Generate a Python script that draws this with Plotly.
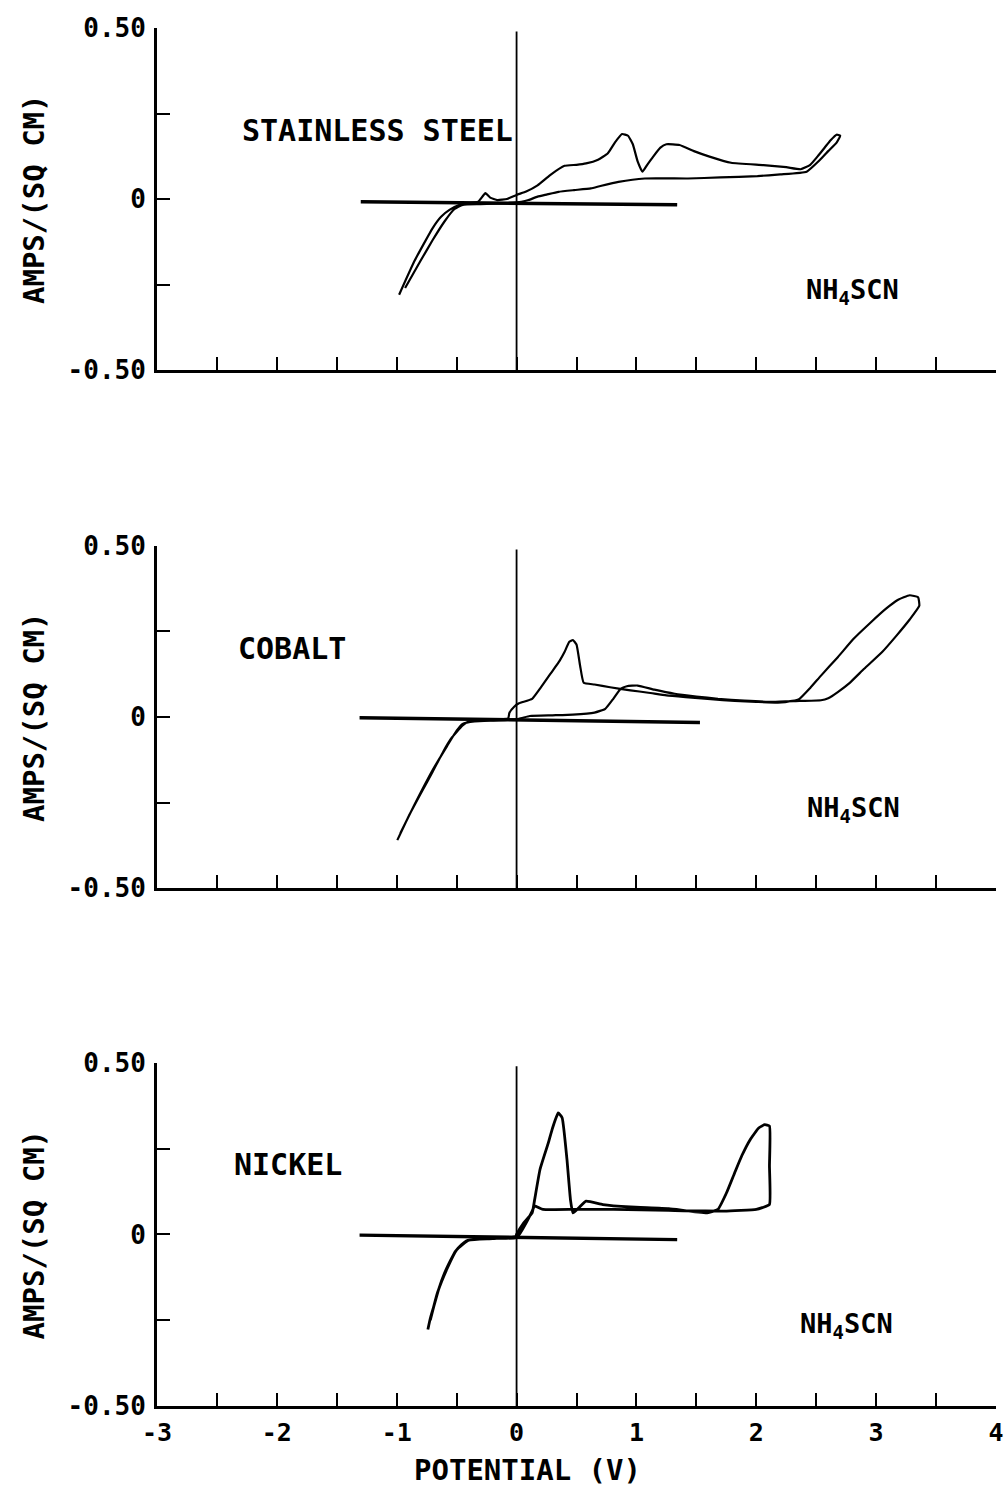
import plotly.graph_objects as go

# ---------------- data ----------------
# Stainless steel cyclic voltammogram (potential V, current A/cm^2)
ss_v = [-0.98, -0.85, -0.70, -0.63, -0.56, -0.48, -0.40, -0.32, -0.26, -0.22, -0.16, -0.08, 0.0, 0.08,
        0.175, 0.28, 0.40, 0.50, 0.58, 0.68, 0.76, 0.82, 0.88, 0.93, 0.97, 1.01, 1.05, 1.09, 1.14, 1.20,
        1.25, 1.36, 1.48, 1.61, 1.79, 2.06, 2.25, 2.37, 2.45, 2.51, 2.57, 2.62, 2.67, 2.70,
        2.67, 2.60, 2.53, 2.42, 2.20, 2.01, 1.70, 1.43, 1.07, 0.85, 0.70, 0.62, 0.48, 0.35, 0.25, 0.175,
        0.10, 0.04, -0.10, -0.30, -0.45, -0.52, -0.60, -0.70, -0.80, -0.93]
ss_i = [-0.280, -0.18, -0.085, -0.052, -0.032, -0.018, -0.013, -0.008, 0.017, 0.004, -0.003, 0.0, 0.012, 0.022,
        0.040, 0.070, 0.097, 0.100, 0.104, 0.115, 0.133, 0.165, 0.190, 0.185, 0.160, 0.110, 0.080, 0.100, 0.124, 0.150,
        0.160, 0.158, 0.140, 0.124, 0.106, 0.099, 0.093, 0.087, 0.100, 0.124, 0.150, 0.172, 0.188, 0.185,
        0.165, 0.140, 0.114, 0.080, 0.072, 0.067, 0.063, 0.060, 0.060, 0.050, 0.038, 0.031, 0.026, 0.021, 0.013, 0.007,
        -0.003, -0.008, -0.012, -0.015, -0.017, -0.030, -0.065, -0.120, -0.180, -0.260]

# Cobalt
co_v = [-0.995, -0.90, -0.79, -0.70, -0.61, -0.55, -0.50, -0.45, -0.41, -0.30, -0.15, -0.07, -0.06, -0.02, 0.02,
        0.13, 0.20, 0.29, 0.36, 0.40, 0.44, 0.47, 0.50, 0.53, 0.56, 0.65, 0.78, 0.95, 1.10, 1.25, 1.41, 1.62,
        1.82, 2.00, 2.18, 2.30, 2.36, 2.45, 2.54, 2.68, 2.81, 2.95, 3.08, 3.18, 3.28, 3.35, 3.36,
        3.28, 3.17, 3.05, 2.90, 2.78, 2.68, 2.60, 2.54, 2.36, 2.14, 1.90, 1.68, 1.50, 1.32, 1.15, 1.01, 0.92,
        0.87, 0.80, 0.74, 0.65, 0.47, 0.30, 0.11, 0.02, -0.15, -0.35, -0.45, -0.50, -0.58, -0.70, -0.85, -0.97]
co_i = [-0.360, -0.290, -0.218, -0.160, -0.100, -0.065, -0.044, -0.025, -0.015, -0.010, -0.007, -0.004, 0.012, 0.030, 0.040,
        0.053, 0.085, 0.130, 0.165, 0.190, 0.220, 0.225, 0.212, 0.150, 0.100, 0.095, 0.087, 0.078, 0.071, 0.063, 0.058, 0.052,
        0.047, 0.044, 0.042, 0.047, 0.053, 0.085, 0.121, 0.175, 0.228, 0.275, 0.316, 0.342, 0.356, 0.350, 0.325,
        0.285, 0.238, 0.190, 0.141, 0.100, 0.073, 0.055, 0.049, 0.047, 0.044, 0.048, 0.053, 0.060, 0.068, 0.080, 0.092, 0.090,
        0.083, 0.050, 0.024, 0.013, 0.007, 0.005, 0.003, -0.005, -0.010, -0.013, -0.020, -0.040, -0.085, -0.155, -0.255, -0.340]

# Nickel
ni_v = [-0.74, -0.72, -0.69, -0.65, -0.60, -0.55, -0.51, -0.46, -0.42, -0.33, -0.15, -0.01, 0.0, 0.06, 0.13,
        0.15, 0.196, 0.265, 0.30, 0.347, 0.38, 0.42, 0.45, 0.47, 0.52, 0.58, 0.72, 0.95, 1.27, 1.59, 1.68,
        1.75, 1.82, 1.88, 1.95, 2.02, 2.07, 2.11, 2.11, 2.11,
        2.05, 2.00, 1.73, 1.27, 0.81, 0.49, 0.22, 0.15, 0.13, 0.08, 0.01, -0.20, -0.40, -0.50, -0.58, -0.66, -0.72]
ni_i = [-0.277, -0.245, -0.209, -0.160, -0.112, -0.075, -0.049, -0.030, -0.019, -0.013, -0.011, -0.010, 0.0, 0.034, 0.063,
        0.100, 0.190, 0.267, 0.310, 0.354, 0.340, 0.220, 0.100, 0.063, 0.078, 0.097, 0.087, 0.080, 0.075, 0.063, 0.073,
        0.120, 0.180, 0.230, 0.277, 0.310, 0.320, 0.316, 0.200, 0.087,
        0.078, 0.073, 0.068, 0.070, 0.073, 0.073, 0.073, 0.083, 0.068, 0.034, -0.005, -0.012, -0.017, -0.045, -0.100, -0.170, -0.250]

# horizontal reference (zero-current) lines drawn on the recorder chart
ss_ref_v = [-1.30, 1.34]
ss_ref_i = [-0.008, -0.017]
co_ref_v = [-1.31, 1.53]
co_ref_i = [-0.002, -0.016]
ni_ref_v = [-1.31, 1.34]
ni_ref_i = [-0.002, -0.015]

panel_names = ["STAINLESS STEEL", "COBALT", "NICKEL"]
electrolyte = "NH<sub>4</sub>SCN"

x_tickvals = [-3, -2.5, -2, -1.5, -1, -0.5, 0, 0.5, 1, 1.5, 2, 2.5, 3, 3.5, 4]
x_ticktext = ["-3", "", "-2", "", "-1", "", "0", "", "1", "", "2", "", "3", "", "4"]
y_tickvals = [-0.5, -0.25, 0, 0.25, 0.5]
y_ticktext = ["-0.50", "", "0", "", "0.50"]

# ---------------- figure ----------------
FONT = "DejaVu Sans Mono"
W, H = 1008, 1487
ML, MR, MT, MB = 157, 12, 28, 81
PW, PH = W - ML - MR, H - MT - MB
fig = go.Figure()

curves = [(ss_v, ss_i, ss_ref_v, ss_ref_i),
          (co_v, co_i, co_ref_v, co_ref_i),
          (ni_v, ni_i, ni_ref_v, ni_ref_i)]
domains = [[0.7518, 1.0], [0.3759, 0.6241], [0.0, 0.249]]
name_pos = [(-1.16, 0.20), (-1.87, 0.20), (-1.91, 0.205)]
el_pos = [(2.80, -0.27), (2.81, -0.27), (2.75, -0.265)]

for k, (v, i, rv, ri) in enumerate(curves):
    sfx = "" if k == 0 else str(k + 1)
    xa, ya = "x" + sfx, "y" + sfx
    fig.add_trace(go.Scatter(x=rv, y=ri, mode="lines", line=dict(color="black", width=3.4),
                             xaxis=xa, yaxis=ya, showlegend=False, hoverinfo="skip"))
    fig.add_trace(go.Scatter(x=v, y=i, mode="lines",
                             line=dict(color="black", width=2.8 if k == 2 else 2.2, shape="spline", smoothing=0.4),
                             xaxis=xa, yaxis=ya, showlegend=False))
    fig.add_shape(type="line", xref=xa, yref=ya + " domain", x0=0, x1=0, y0=0, y1=0.99,
                  line=dict(color="black", width=1.8))
    last = (k == 2)
    fig.update_layout(**{
        "xaxis" + sfx: dict(range=[-3, 4], domain=[0, 1], anchor=ya, showline=True, linecolor="black",
                            linewidth=2.8, ticks="inside", ticklen=13, tickwidth=2, tickcolor="black",
                            tickvals=x_tickvals, ticktext=x_ticktext if last else [""] * len(x_tickvals),
                            showgrid=False, zeroline=False, ticklabelstandoff=2, automargin=False,
                            tickfont=dict(family=FONT, size=25, color="black", weight="bold")),
        "yaxis" + sfx: dict(range=[-0.5, 0.5], domain=domains[k], anchor=xa, showline=True, linecolor="black",
                            linewidth=2.8, ticks="inside", ticklen=13, tickwidth=2, tickcolor="black",
                            tickvals=y_tickvals, ticktext=y_ticktext, showgrid=False, zeroline=False,
                            ticklabelstandoff=3, automargin=False,
                            tickfont=dict(family=FONT, size=26, color="black", weight="bold")),
    })
    fig.add_annotation(x=name_pos[k][0], y=name_pos[k][1], xref=xa, yref=ya, text=panel_names[k],
                       showarrow=False, xanchor="center", yanchor="middle",
                       font=dict(family=FONT, size=30, color="black", weight="bold"))
    fig.add_annotation(x=el_pos[k][0], y=el_pos[k][1], xref=xa, yref=ya, text=electrolyte,
                       showarrow=False, xanchor="center", yanchor="middle",
                       font=dict(family=FONT, size=27, color="black", weight="bold"))
    fig.add_annotation(x=(34 - ML) / PW, y=0.5, xref="paper", yref=ya + " domain",
                       text="AMPS/(SQ CM)", textangle=-90, showarrow=False, xanchor="center", yanchor="middle",
                       font=dict(family=FONT, size=29, color="black", weight="bold"))

fig.add_annotation(x=(527 - ML) / PW, y=-(1470 - 1406) / PH, xref="paper", yref="paper",
                   text="POTENTIAL (V)", showarrow=False, xanchor="center", yanchor="middle",
                   font=dict(family=FONT, size=29, color="black", weight="bold"))

fig.update_layout(width=W, height=H, margin=dict(l=ML, r=MR, t=MT, b=MB),
                  paper_bgcolor="white", plot_bgcolor="white")

fig.write_html("out.html", config={"displayModeBar": False},
               post_script="document.body.style.margin='0';document.body.style.overflow='hidden';")
